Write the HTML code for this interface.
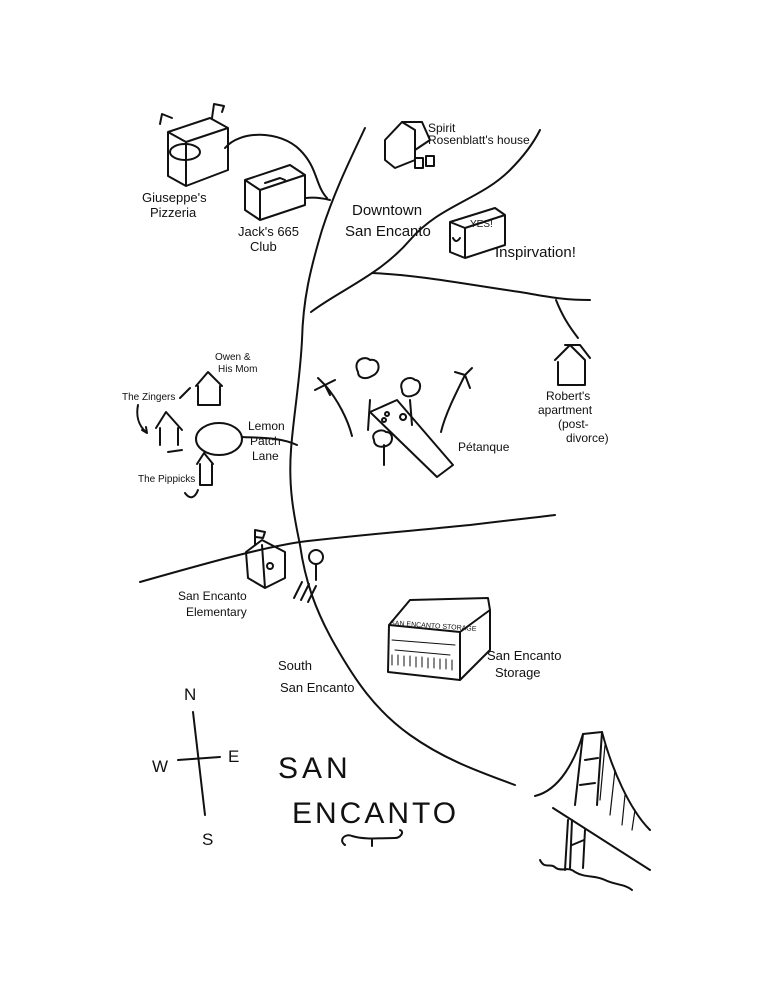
<!DOCTYPE html>
<html><head><meta charset="utf-8"><style>
html,body{margin:0;padding:0;background:#fff}
svg{display:block}
text{font-family:"Liberation Sans",sans-serif;fill:#111}
</style></head><body>
<svg width="769" height="996" viewBox="0 0 769 996" xmlns="http://www.w3.org/2000/svg">
<g fill="none" stroke="#111" stroke-width="2" stroke-linecap="round" stroke-linejoin="round">
<!-- main road -->
<path d="M365,128 C350,160 335,190 322,230 C310,270 303,300 302,340 C300,380 293,420 291,450 C288,490 295,520 300,545 C305,580 315,610 335,645 C355,680 375,710 410,735 C445,760 480,772 515,785"/>
<path d="M311,312 C340,290 380,275 410,240 C440,205 480,200 510,170 C525,155 535,140 540,130"/>
<path d="M372,273 C420,275 470,285 520,292 C545,296 560,300 590,300"/>
<path d="M556,300 C562,315 568,325 578,338"/>
<path d="M225,148 C240,130 280,130 300,150 C318,168 315,185 327,198"/>
<path d="M306,198 C315,197 322,198 330,200"/>
<path d="M140,582 C200,565 260,548 300,542 C360,535 420,530 470,525 C510,520 540,517 555,515"/>
<!-- lemon patch lane -->
<ellipse cx="219" cy="439" rx="23" ry="16"/>
<path d="M242,437 C260,438 280,437 297,445"/>
<!-- crosswalk -->
<path d="M294,598 L302,582 M301,600 L309,584 M308,602 L316,586"/>
<!-- Giuseppe box -->
<path d="M168,132 L210,118 L228,128 L228,170 L186,186 L168,176 Z M168,132 L186,142 L228,128 M186,142 L186,186"/>
<ellipse cx="185" cy="152" rx="15" ry="8"/>
<path d="M160,124 L162,114 L172,118 M212,118 L214,104 L224,106 L222,112"/>
<!-- Jack's box -->
<path d="M245,180 L290,165 L305,175 L305,205 L260,220 L245,210 Z M245,180 L260,190 L305,175 M260,190 L260,220"/>
<path d="M265,183 L280,178 L285,180"/>
<!-- Spirit house -->
<path d="M385,140 L402,122 L415,130 L415,160 L395,168 L385,160 Z M402,122 L422,122 L430,140 L415,150"/>
<rect x="415" y="158" width="8" height="10"/><rect x="426" y="156" width="8" height="10"/>
<!-- Inspiration box -->
<path d="M450,222 L495,208 L505,215 L505,245 L465,258 L450,252 Z M450,222 L465,228 L505,215 M465,228 L465,258"/>
<path d="M453,238 Q456,244 460,238"/>
<!-- Robert house -->
<path d="M555,360 L570,345 L585,360 L585,385 L558,385 L558,362 M565,345 L580,345 L590,358"/>
<!-- Owen house -->
<path d="M196,386 L208,372 L222,386 M198,386 L198,405 L220,405 L220,386"/>
<path d="M190,388 L180,398"/>
<!-- Zingers -->
<path d="M156,428 L166,412 L182,430 M160,428 L160,445 M178,428 L178,445 M168,452 L182,450"/>
<!-- Pippicks -->
<path d="M197,464 L204,453 L213,464 M200,464 L200,485 L212,485 L212,464"/>
<path d="M138,405 C136,415 138,425 146,432 M142,430 L147,433 L146,427"/>
<path d="M185,493 C190,500 195,498 198,490"/>
<!-- petanque court -->
<path d="M370,412 L397,400 L453,465 L437,477 Z"/>
<circle cx="387" cy="414" r="2"/><circle cx="384" cy="420" r="2"/><path d="M403,414 a3,3 0 1,0 0.1,0"/>
<!-- palms -->
<path d="M325,385 C338,400 348,420 352,436 M315,390 L325,385 L318,378 M325,385 L335,380 M325,385 L330,395"/>
<path d="M465,375 C455,395 445,415 441,432 M455,372 L465,375 L472,368 M465,375 L470,388"/>
<!-- trees -->
<path d="M370,400 L368,430 M410,400 L412,425 M384,445 L384,465"/>
<path d="M358,372 C352,360 365,355 370,360 C380,358 382,372 372,376 C365,380 358,378 358,372 Z"/>
<path d="M402,390 C398,380 410,375 415,380 C422,380 422,392 414,395 C408,398 402,396 402,390 Z"/>
<path d="M374,440 C370,432 382,428 386,432 C394,432 394,444 386,446 C380,448 374,446 374,440 Z"/>
<!-- school -->
<path d="M246,552 L262,540 L285,552 L285,578 L265,588 L248,578 Z M262,545 L265,588"/>
<circle cx="270" cy="566" r="3"/>
<path d="M255,545 L255,530 L265,532 L263,538 L256,537"/>
<!-- tree near crosswalk -->
<circle cx="316" cy="557" r="7"/><path d="M316,564 L316,580"/>
<!-- storage -->
<path d="M389,625 L388,672 L460,680 L460,632 Z M389,625 L410,600 L488,598 L490,610 L460,632 M460,680 L490,650 L490,610"/>
<path d="M392,640 L455,645 M395,650 L450,655" stroke-width="1"/>
<path d="M392,655 L392,665 M398,655 L398,665 M404,656 L404,666 M410,656 L410,666 M416,657 L416,667 M422,657 L422,667 M428,658 L428,668 M434,658 L434,668 M440,659 L440,669 M446,659 L446,669 M452,660 L452,670" stroke-width="1"/>
<!-- compass -->
<path d="M193,712 L205,815 M178,760 L220,757"/>
<!-- squiggle -->
<path d="M345,845 C338,840 345,833 352,836 C365,840 380,838 395,838 C400,838 405,832 400,830"/>
<path d="M372,840 L372,846"/>
<!-- bridge -->
<path d="M535,796 C560,790 575,760 583,734 M583,734 L602,732 M602,732 C612,770 630,810 650,830"/>
<path d="M583,734 L575,805 M602,732 L597,805 M585,760 L598,758 M580,785 L595,783"/>
<path d="M553,808 L650,870"/>
<path d="M568,820 L565,870 M572,820 L570,868 M585,830 L583,868 M572,845 L584,840"/>
<path d="M605,745 L600,800 M615,770 L610,815 M625,795 L622,825 M635,810 L632,830" stroke-width="1.2"/>
<path d="M540,860 C545,870 550,862 556,868 C562,872 568,866 575,872 C585,878 595,875 605,880 C615,885 625,884 632,890"/>
</g>
<g font-size="13">
<text x="142" y="202">Giuseppe's</text><text x="150" y="217">Pizzeria</text>
<text x="238" y="236">Jack's 665</text><text x="250" y="251">Club</text>
<text x="428" y="132" font-size="12">Spirit</text><text x="428" y="144" font-size="12">Rosenblatt's house</text>
<text x="352" y="215" font-size="15">Downtown</text><text x="345" y="236" font-size="15">San Encanto</text>
<text x="470" y="227" font-size="10">YES!</text>
<text x="495" y="257" font-size="15">Inspirvation!</text>
<text x="215" y="360" font-size="10">Owen &amp;</text><text x="218" y="372" font-size="10">His Mom</text>
<text x="122" y="400" font-size="10">The Zingers</text>
<text x="248" y="430" font-size="12">Lemon</text><text x="250" y="445" font-size="12">Patch</text><text x="252" y="460" font-size="12">Lane</text>
<text x="138" y="482" font-size="10">The Pippicks</text>
<text x="546" y="400" font-size="12">Robert's</text><text x="538" y="414" font-size="12">apartment</text><text x="558" y="428" font-size="12">(post-</text><text x="566" y="442" font-size="12">divorce)</text>
<text x="458" y="451" font-size="12">Pétanque</text>
<text x="178" y="600" font-size="12">San Encanto</text><text x="186" y="616" font-size="12">Elementary</text>
<text x="390" y="625" font-size="7" transform="rotate(4 390 625)">SAN ENCANTO STORAGE</text>
<text x="487" y="660" font-size="13">San Encanto</text><text x="495" y="677" font-size="13">Storage</text>
<text x="278" y="670" font-size="13">South</text><text x="280" y="692" font-size="13">San Encanto</text>
<text x="184" y="700" font-size="17">N</text><text x="152" y="772" font-size="17">W</text><text x="228" y="762" font-size="17">E</text><text x="202" y="845" font-size="17">S</text>
<text x="278" y="778" font-size="30" font-weight="300" letter-spacing="4">SAN</text>
<text x="292" y="823" font-size="30" letter-spacing="3">ENCANTO</text>
</g>
</svg>
</body></html>
